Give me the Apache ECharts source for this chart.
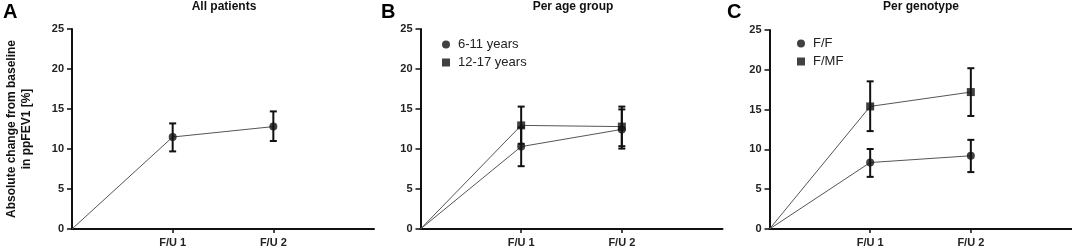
<!DOCTYPE html>
<html>
<head>
<meta charset="utf-8">
<script src="https://cdn.jsdelivr.net/npm/echarts@6/dist/echarts.min.js"></script>
<style>
  html, body { margin: 0; padding: 0; background: #fff; }
  #chart { width: 1072px; height: 248px; }
</style>
</head>
<body>
<div id="chart"></div>
<script>
// time points (x = 1, 2; origin at 0)
const categories = ['F/U 1', 'F/U 2'];

// A: all patients
const allMean = [11.5, 12.8];
const allLow = [9.7, 11.0];
const allHigh = [13.2, 14.7];

// B: per age group
const ageYoungMean = [10.3, 12.45];
const ageYoungLow = [7.85, 10.05];
const ageYoungHigh = [12.7, 14.95];
const ageOldMean = [12.95, 12.8];
const ageOldLow = [10.65, 10.35];
const ageOldHigh = [15.3, 15.3];

// C: per genotype
const ffMean = [8.35, 9.2];
const ffLow = [6.55, 7.15];
const ffHigh = [10.05, 11.2];
const fmfMean = [15.4, 17.2];
const fmfLow = [12.3, 14.2];
const fmfHigh = [18.55, 20.2];

const yTicks = [0, 5, 10, 15, 20, 25];

const FONT = '"Liberation Sans", Arial, sans-serif';

var myChart = echarts.init(document.getElementById('chart'));

// 三个面板的位置
var grids = [
  { left: 72, top: 29, width: 302, height: 201 },
  { left: 420.5, top: 29, width: 302, height: 201 },
  { left: 769.5, top: 30, width: 302, height: 200 }
];

function lineData(mean) {
  return [[0, 0]].concat(mean.map((v, i) => [i + 1, v]));
}
function pointData(mean) {
  return mean.map((v, i) => [i + 1, v]);
}
function errData(low, high) {
  return low.map((v, i) => [i + 1, v, high[i]]);
}

function renderErr(params, api) {
  var x = api.value(0);
  var top = api.coord([x, api.value(2)]);
  var bot = api.coord([x, api.value(1)]);
  var w = 3.5;
  var st = { stroke: '#111', lineWidth: 2 };
  return {
    type: 'group',
    children: [
      { type: 'line', shape: { x1: top[0], y1: top[1], x2: bot[0], y2: bot[1] }, style: st },
      { type: 'line', shape: { x1: top[0] - w, y1: top[1], x2: top[0] + w, y2: top[1] }, style: st },
      { type: 'line', shape: { x1: bot[0] - w, y1: bot[1], x2: bot[0] + w, y2: bot[1] }, style: st }
    ]
  };
}

var xAxes = grids.map((g, i) => ({
  type: 'value',
  gridIndex: i,
  min: 0,
  max: 3,
  interval: 1,
  splitLine: { show: false },
  axisLine: { show: true, onZero: false, lineStyle: { color: '#111', width: 2 } },
  axisTick: { show: true, customValues: [1, 2], length: 4, lineStyle: { color: '#111', width: 1.5 } },
  axisLabel: {
    customValues: [1, 2],
    margin: 8,
    fontFamily: FONT, fontWeight: 'bold', fontSize: 11, color: '#222',
    formatter: v => categories[v - 1] || ''
  }
}));

var yAxes = grids.map((g, i) => ({
  type: 'value',
  gridIndex: i,
  min: yTicks[0],
  max: yTicks[yTicks.length - 1],
  interval: 5,
  splitLine: { show: false },
  axisLine: { show: true, lineStyle: { color: '#111', width: 2 } },
  axisTick: { show: true, length: 5, lineStyle: { color: '#111', width: 1.5 } },
  axisLabel: { margin: 8, fontFamily: FONT, fontWeight: 'bold', fontSize: 11, color: '#222' },
  name: i === 0 ? 'Absolute change from baseline\nin ppFEV1 [%]' : '',
  nameLocation: 'middle',
  nameGap: 38,
  nameTextStyle: { fontFamily: FONT, fontWeight: 'bold', fontSize: 12, color: '#111', lineHeight: 15 }
}));

function lineSeries(name, idx, mean) {
  return {
    name: name, type: 'line', xAxisIndex: idx, yAxisIndex: idx,
    data: lineData(mean), symbol: 'none',
    lineStyle: { color: '#555', width: 1 }, z: 2, silent: true
  };
}
function errSeries(idx, low, high) {
  return {
    type: 'custom', xAxisIndex: idx, yAxisIndex: idx,
    data: errData(low, high), renderItem: renderErr,
    encode: { x: 0, y: [1, 2] }, z: 3, silent: true
  };
}
function markSeries(name, idx, mean, symbol) {
  return {
    name: name, type: 'scatter', xAxisIndex: idx, yAxisIndex: idx,
    data: pointData(mean), symbol: symbol, symbolSize: 8,
    itemStyle: { color: '#111' }, z: 4, silent: true
  };
}

var legendBase = {
  orient: 'vertical',
  itemWidth: 8, itemHeight: 8, itemGap: 5,
  selectedMode: false,
  textStyle: { fontFamily: FONT, fontSize: 13, color: '#222', padding: [0, 0, 0, 3] }
};

var titleStyle = { fontFamily: FONT, fontWeight: 'bold', fontSize: 12, color: '#111' };
var letterStyle = { fontFamily: FONT, fontWeight: 'bold', fontSize: 20, color: '#000' };

var option = {
  animation: false,
  backgroundColor: '#fff',
  grid: grids,
  xAxis: xAxes,
  yAxis: yAxes,
  title: [
    { text: 'A', left: 1, top: 0, padding: 2, textStyle: letterStyle },
    { text: 'B', left: 379, top: 0, padding: 2, textStyle: letterStyle },
    { text: 'C', left: 725, top: 0, padding: 2, textStyle: letterStyle },
    { text: 'All patients', left: 223, top: 0, padding: 1, textAlign: 'center', textStyle: titleStyle },
    { text: 'Per age group', left: 572, top: 0, padding: 1, textAlign: 'center', textStyle: titleStyle },
    { text: 'Per genotype', left: 920, top: 0, padding: 1, textAlign: 'center', textStyle: titleStyle }
  ],
  legend: [
    Object.assign({}, legendBase, {
      left: 437, top: 33,
      data: [{ name: '6-11 years', icon: 'circle' }, { name: '12-17 years', icon: 'rect' }]
    }),
    Object.assign({}, legendBase, {
      left: 792, top: 32,
      data: [{ name: 'F/F', icon: 'circle' }, { name: 'F/MF', icon: 'rect' }]
    })
  ],
  series: [
    lineSeries('all-line', 0, allMean),
    errSeries(0, allLow, allHigh),
    markSeries('All patients', 0, allMean, 'circle'),

    lineSeries('young-line', 1, ageYoungMean),
    lineSeries('old-line', 1, ageOldMean),
    errSeries(1, ageYoungLow, ageYoungHigh),
    errSeries(1, ageOldLow, ageOldHigh),
    markSeries('6-11 years', 1, ageYoungMean, 'circle'),
    markSeries('12-17 years', 1, ageOldMean, 'rect'),

    lineSeries('ff-line', 2, ffMean),
    lineSeries('fmf-line', 2, fmfMean),
    errSeries(2, ffLow, ffHigh),
    errSeries(2, fmfLow, fmfHigh),
    markSeries('F/F', 2, ffMean, 'circle'),
    markSeries('F/MF', 2, fmfMean, 'rect')
  ]
};
myChart.setOption(option);
</script>
</body>
</html>
